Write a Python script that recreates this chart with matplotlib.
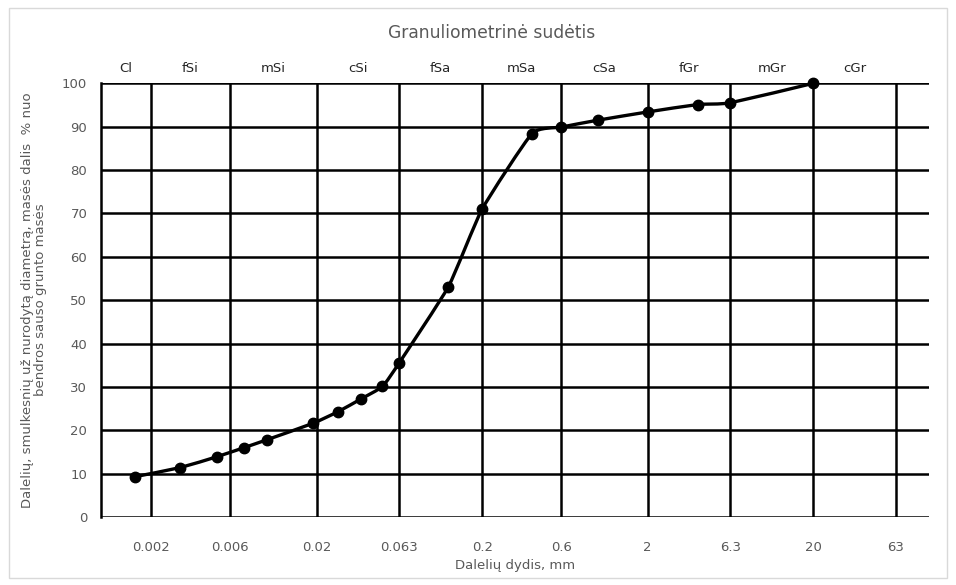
import numpy as np
import matplotlib.pyplot as plt
from matplotlib.patches import Rectangle, PathPatch
from matplotlib.path import Path

# Duomenys
dydis = [0.0016, 0.003, 0.005, 0.0073, 0.01, 0.019, 0.027, 0.037, 0.05, 0.063,
         0.125, 0.2, 0.4, 0.6, 1.0, 2.0, 4.0, 6.3, 20.0]
procentai = [9.3, 11.4, 13.9, 16.0, 17.8, 21.6, 24.3, 27.2, 30.1, 35.5,
             53.1, 71.0, 88.4, 89.9, 91.5, 93.4, 95.1, 95.5, 100.0]

x_ribos = [0.001, 0.002, 0.006, 0.02, 0.063, 0.2, 0.6, 2, 6.3, 20, 63]
x_zymes = ["0.002", "0.006", "0.02", "0.063", "0.2", "0.6", "2", "6.3", "20", "63"]
frakcijos = ["Cl", "fSi", "mSi", "cSi", "fSa", "mSa", "cSa", "fGr", "mGr", "cGr"]

plt.rcParams['font.family'] = ['DejaVu Sans']
pilka = '#595959'

fig = plt.figure(figsize=(9.56, 5.85), dpi=100)
ax = fig.add_axes([0.1058, 0.1162, 0.8660, 0.7414])

ax.set_xscale('log')
ax.set_xlim(0.001, 100)
ax.set_ylim(0, 100)

# Tinklelis
ax.set_xticks(x_ribos[1:])
ax.set_xticklabels(x_zymes, color=pilka, fontsize=9.5)
ax.xaxis.set_minor_locator(plt.NullLocator())
ax.set_yticks(np.arange(0, 101, 10))
ax.tick_params(axis='y', labelcolor=pilka, labelsize=9.5, length=0, pad=10)
ax.tick_params(axis='x', length=0, pad=17)
ax.grid(True, color='black', linewidth=1.8)
ax.set_axisbelow(True)
for s in ['top', 'right', 'bottom']:
    ax.spines[s].set_visible(False)
ax.spines['left'].set_linewidth(1.8)

# Švelniai glodinta kreivė, skaičiuojama log erdvėje
k = 12
lx = np.log10(dydis)
yy = np.array(procentai)
n = len(lx)
verts = [(lx[0], yy[0])]
codes = [Path.MOVETO]
for i in range(n - 1):
    i0 = max(i - 1, 0)
    i3 = min(i + 2, n - 1)
    c1 = (lx[i] + (lx[i + 1] - lx[i0]) / k, yy[i] + (yy[i + 1] - yy[i0]) / k)
    c2 = (lx[i + 1] - (lx[i3] - lx[i]) / k, yy[i + 1] - (yy[i3] - yy[i]) / k)
    verts += [c1, c2, (lx[i + 1], yy[i + 1])]
    codes += [Path.CURVE4] * 3
verts = [(10 ** vx, vy) for vx, vy in verts]
ax.add_patch(PathPatch(Path(verts, codes), facecolor='none', edgecolor='black',
                       linewidth=2.4, zorder=5, clip_on=False))
ax.plot(dydis, procentai, linestyle='none', color='black', marker='o',
        markersize=7.5, zorder=6, clip_on=False)

# Frakcijų pavadinimai
for i, vardas in enumerate(frakcijos):
    xm = np.sqrt(x_ribos[i] * x_ribos[i + 1])
    ax.text(xm, 101.8, vardas, ha='center', va='bottom', fontsize=9.5, color='#262626')

fig.text(0.5146, 0.944, "Granuliometrinė sudėtis", ha='center', va='center',
         color=pilka, fontsize=12.3)
ax.set_xlabel("Dalelių dydis, mm", color=pilka, fontsize=9.5, labelpad=4)
ax.set_ylabel("Dalelių, smulkesnių už nurodytą diametrą, masės dalis  % nuo\nbendros sauso grunto masės",
              color=pilka, fontsize=9.5, labelpad=11, linespacing=0.95)

# Rėmelis
fig.patches.append(Rectangle((0.009, 0.012), 0.982, 0.975, transform=fig.transFigure,
                             fill=False, edgecolor='#d9d9d9', linewidth=1))

fig.savefig("out.png", dpi=100)
